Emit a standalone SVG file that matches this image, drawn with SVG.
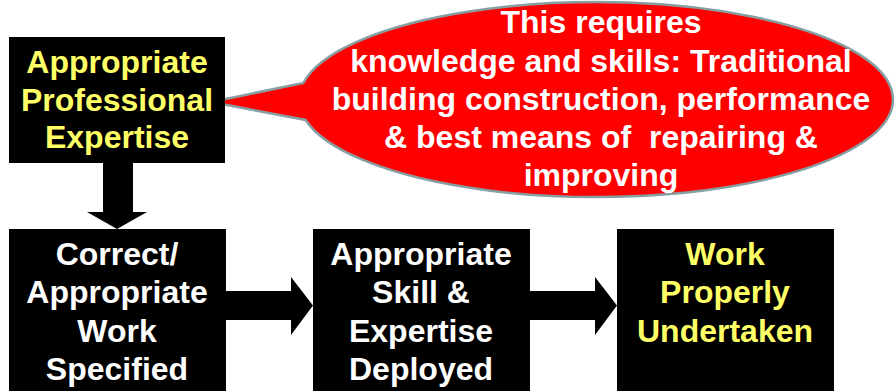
<svg xmlns="http://www.w3.org/2000/svg" width="894" height="391" viewBox="0 0 894 391">
<style>
.box{fill:#000}
.t{font-family:"Liberation Sans",Arial,sans-serif;font-weight:bold;font-size:32px;text-anchor:middle;white-space:pre}
.w{fill:#fff}
.y{fill:#ffff66}
.arr{fill:#000}
</style>
<rect width="894" height="391" fill="#fff"/>
<g id="callout">
<path d="M303.3,83 A297,97.5 0 1 1 305.6,120 L211,102 Z" fill="#ff0000" stroke="#869fa3" stroke-width="2.5" stroke-linejoin="miter"/>
<text class="t w" x="601" y="33">This requires</text>
<text class="t w" x="601" y="72">knowledge and skills: Traditional</text>
<text class="t w" x="601" y="110">building construction, performance</text>
<text class="t w" x="601" y="148">&amp; best means of  repairing &amp;</text>
<text class="t w" x="601" y="186">improving</text>
</g>
<g id="node-expertise">
<rect class="box" x="9" y="37" width="216" height="126"/>
<text class="t y" x="117" y="73">Appropriate</text>
<text class="t y" x="117" y="111">Professional</text>
<text class="t y" x="117" y="148">Expertise</text>
</g>
<g id="node-specified">
<rect class="box" x="9" y="229" width="217" height="162"/>
<text class="t w" x="117" y="265">Correct/</text>
<text class="t w" x="117" y="303">Appropriate</text>
<text class="t w" x="117" y="342">Work</text>
<text class="t w" x="117" y="380">Specified</text>
</g>
<g id="node-deployed">
<rect class="box" x="313" y="229" width="217" height="162"/>
<text class="t w" x="421" y="265">Appropriate</text>
<text class="t w" x="421" y="303">Skill &amp;</text>
<text class="t w" x="421" y="342">Expertise</text>
<text class="t w" x="421" y="380">Deployed</text>
</g>
<g id="node-undertaken">
<rect class="box" x="617" y="229" width="217" height="162"/>
<text class="t y" x="725" y="265">Work</text>
<text class="t y" x="725" y="303">Properly</text>
<text class="t y" x="725" y="342">Undertaken</text>
</g>
<g id="connectors">
<polygon class="arr" points="103,163 133,163 133,212 147,212 117,229 87,212 103,212"/>
<polygon class="arr" points="226,291 291,291 291,277 313,305.5 291,335 291,320 226,320"/>
<polygon class="arr" points="530,291 595,291 595,277 617,305.5 595,335 595,320 530,320"/>
</g>
</svg>
